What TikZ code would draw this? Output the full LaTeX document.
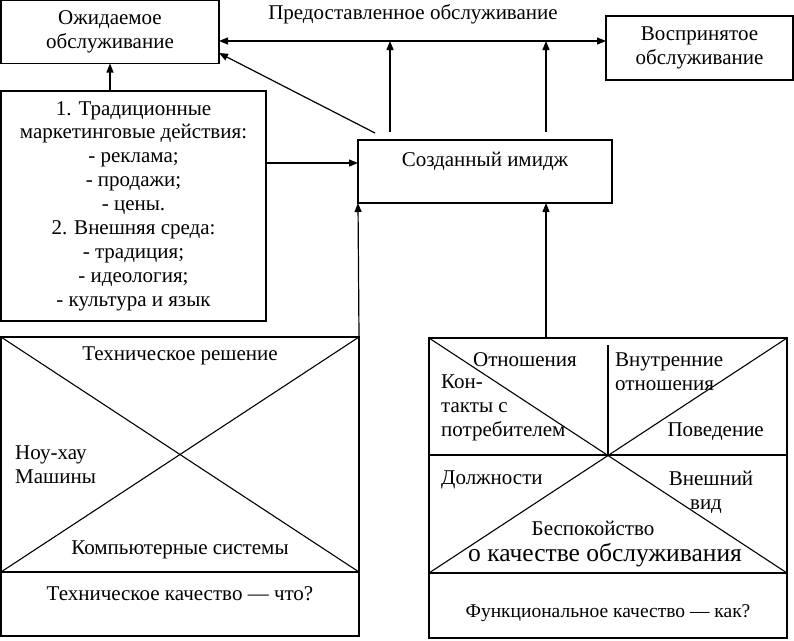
\documentclass[tikz,border=0pt]{standalone}
\usepackage{fontspec}
\setmainfont{Liberation Serif}
\usetikzlibrary{arrows.meta}
\newcommand\fsmain{\fontsize{21}{24}\selectfont}
\newcommand\fsbig{\fontsize{25.5}{28}\selectfont}
\newcommand\fssmall{\fontsize{19.5}{24}\selectfont}
\begin{document}
\begin{tikzpicture}[x=1pt,y=-1pt,
  box/.style={draw,line width=1.2pt,rectangle,inner sep=0pt,outer sep=0pt,align=center,font=\fsmain},
  arr/.style={-{Triangle[length=9pt,width=7pt]},line width=1.2pt},
  dbl/.style={{Triangle[length=9pt,width=7pt]}-{Triangle[length=9pt,width=7pt]},line width=1.2pt},
  ln/.style={line width=1.1pt},
  lbl/.style={inner sep=0pt,font=\fsmain,align=center}]
\useasboundingbox (0,0) rectangle (794,640);
% top boxes
\node[box,minimum width=218pt,minimum height=63pt] (oz) at (110,32) {Ожидаемое\\обслуживание};
\node[box,minimum width=187pt,minimum height=64pt] (vos) at (699.5,48) {Воспринятое\\обслуживание};
\node[box,minimum width=254pt,minimum height=63pt] (img) at (485,171.5) {};
\node[lbl] (imgt) at (485,161) {Созданный имидж};
\node[box,minimum width=265pt,minimum height=230pt,font=\fontsize{21}{23.9}\selectfont] (list) at (133.5,206)
  {1. Традиционные\\маркетинговые действия:\\- реклама;\\- продажи;\\- цены.\\2. Внешняя среда:\\- традиция;\\- идеология;\\- культура и язык};
\node[lbl] (prov) at (413,14) {Предоставленное обслуживание};
% connectors top
\coordinate (hy) at (0,41);
\draw[dbl] (oz.east |- hy) -- (vos.west |- hy);
\coordinate (a1) at (390,132);
\coordinate (a2) at (546,132);
\coordinate (d1) at (375,133);
\coordinate (dy) at (0,53);
\draw[arr] (a1) -- (a1 |- hy);
\draw[arr] (a2) -- (a2 |- hy);
\draw[arr] (d1) -- (oz.east |- dy);
\draw[arr] (list.north -| 110,0) -- (oz.south -| 110,0);
\coordinate (ly) at (0,163);
\draw[arr] (list.east |- ly) -- (img.west |- ly);
% bottom-left box
\node[box,minimum width=358pt,minimum height=235pt] (tt) at (180,454.5) {};
\node[box,minimum width=358pt,minimum height=64pt] (tb) at (180,604) {};
\draw[ln] (tt.north west) -- (tt.south east);
\draw[ln] (tt.north east) -- (tt.south west);
\node[lbl] (t1) at (180,356) {Техническое решение};
\node[lbl,anchor=west,align=left] (t2) at (15,465) {Ноу-хау\\Машины};
\node[lbl] (t3) at (180,550) {Компьютерные системы};
\node[lbl] (t4) at (180,594) {Техническое качество — что?};
\draw[arr] (tt.north east) -- (img.south west);
% bottom-right box
\node[box,minimum width=358pt,minimum height=235pt] (ft) at (608,455.5) {};
\node[box,minimum width=358pt,minimum height=65pt] (fb) at (608,605.5) {};
\coordinate (fc) at (608,455);
\draw[ln] (ft.north west) -- (ft.south east);
\draw[ln] (ft.north east) -- (ft.south west);
\draw[ln] (ft.west |- fc) -- (ft.east |- fc);
\draw[ln] (608,345) -- (fc);
\node[lbl] (f1) at (525,360) {Отношения};
\node[lbl,anchor=west,align=left] (f2) at (441,408) {Кон-\\такты с\\потребителем};
\node[lbl,anchor=west,align=left] (f3) at (615,372) {Внутренние\\отношения};
\node[lbl,anchor=east] (f4) at (764,432) {Поведение};
\node[lbl,anchor=west] (f5) at (441,480) {Должности};
\node[lbl] (f6) at (711,492) {Внешний\\\hspace*{-10pt}вид};
\node[lbl] (f7) at (593,528) {Беспокойство};
\node[lbl,font=\fsbig] (f8) at (605,555) {о качестве обслуживания};
\node[lbl,font=\fssmall] (f9) at (608,613) {Функциональное качество — как?};
\draw[arr] (ft.north -| a2) -- (img.south -| a2);
\end{tikzpicture}
\end{document}
